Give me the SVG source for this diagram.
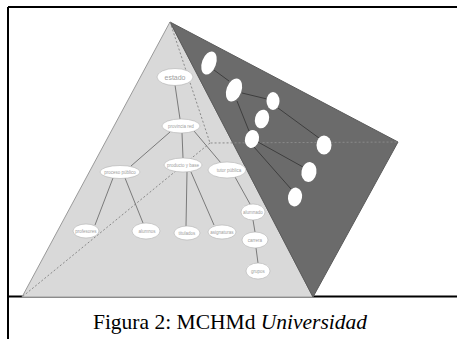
<svg xmlns="http://www.w3.org/2000/svg" width="457" height="339" viewBox="0 0 457 339">
<style>
.face-l{fill:#d9d9d9;stroke:#9a9a9a;stroke-width:1}
.face-d{fill:#6b6b6b;stroke:#5a5a5a;stroke-width:1}
.hid{fill:none;stroke:#8a8a8a;stroke-width:1;stroke-dasharray:2 2}
.el{fill:none;stroke:#7a7a7a;stroke-width:1}
.ed{fill:none;stroke:#3e3e3e;stroke-width:1}
.nl{fill:#fff;stroke:#b0b0b0;stroke-width:0.6}
.nd{fill:#fff;stroke:none}
.t{font-family:"Liberation Sans",Arial,sans-serif;font-size:4.5px;fill:#a0a0a0;text-anchor:middle}
.frame{stroke:#000;stroke-width:2;fill:none}
</style>
<rect x="0" y="0" width="457" height="339" fill="#fff"/>
<g id="frame">
<path class="frame" d="M8,7 H457 M8,7 V339 M8,296.5 H457"/>
</g>
<g id="pyramid">
<polygon class="face-l" points="170,22 22,297 313,297"/>
<polygon class="face-d" points="170,22 398,142 313,297"/>
<path class="hid" d="M170,22 L210,143 L398,142 M210,143 L22,297"/>
</g>
<g id="connectors">
<path class="el" d="M175,85 L180,119 M170,132 L131,166 M182,133 L183,158 M194,131 L221,163 M113,178 L95,225 M125,178 L143,223 M187,172 L186,226 M191,172 L214,225 M235,177 L250,204 M253,220 L255,232 M256,248 L258,263"/>
<path class="ed" d="M214,70 L229,81 M242,93 L267,99 M237,101 L249,131 M278,108 L319,138 M258,142 L303,167 M254,147 L291,189"/>
</g>
<g id="n-estado"><ellipse class="nl" cx="175" cy="77" rx="18" ry="8.5"/><text class="t" x="175" y="79.5" style="font-size:7px">estado</text></g>
<g id="n-provincia"><ellipse class="nl" cx="181" cy="126" rx="19" ry="7"/><text class="t" x="181" y="127.5">provincia red</text></g>
<g id="n-proceso"><ellipse class="nl" cx="120" cy="172" rx="20" ry="6.5"/><text class="t" x="120" y="173.5">proceso público</text></g>
<g id="n-producto"><ellipse class="nl" cx="183" cy="165" rx="19" ry="7"/><text class="t" x="183" y="166.5">producto y base</text></g>
<g id="n-tutor"><ellipse class="nl" cx="227" cy="170" rx="19" ry="8"/><text class="t" x="229" y="171.5">tutor pública</text></g>
<g id="n-profesores"><ellipse class="nl" cx="86" cy="231" rx="13" ry="7"/><text class="t" x="86" y="232.5">profesores</text></g>
<g id="n-alumnos"><ellipse class="nl" cx="146" cy="231" rx="14" ry="8"/><text class="t" x="147" y="232.5">alumnos</text></g>
<g id="n-titulados"><ellipse class="nl" cx="187" cy="233" rx="13" ry="7"/><text class="t" x="187" y="234.5">titulados</text></g>
<g id="n-asignaturas"><ellipse class="nl" cx="222" cy="232" rx="14" ry="7"/><text class="t" x="222" y="233.5">asignaturas</text></g>
<g id="n-alumnado"><ellipse class="nl" cx="253" cy="212" rx="12" ry="8"/><text class="t" x="253" y="213.5">alumnado</text></g>
<g id="n-carrera"><ellipse class="nl" cx="255" cy="240" rx="13" ry="8"/><text class="t" x="255" y="241.5">carrera</text></g>
<g id="n-grupos"><ellipse class="nl" cx="258" cy="271" rx="12" ry="8"/><text class="t" x="258" y="272.5">grupos</text></g>
<g id="d1"><ellipse class="nd" cx="209" cy="63" rx="7" ry="12" transform="rotate(20 209 63)"/></g>
<g id="d2"><ellipse class="nd" cx="234" cy="90" rx="7.5" ry="12" transform="rotate(20 234 90)"/></g>
<g id="d3"><ellipse class="nd" cx="273" cy="101" rx="6.5" ry="9"/></g>
<g id="d4"><ellipse class="nd" cx="262" cy="119" rx="7" ry="9.5" transform="rotate(15 262 119)"/></g>
<g id="d5"><ellipse class="nd" cx="252" cy="139" rx="7" ry="9" transform="rotate(15 252 139)"/></g>
<g id="d6"><ellipse class="nd" cx="324" cy="145" rx="7.5" ry="9.5"/></g>
<g id="d7"><ellipse class="nd" cx="309" cy="172" rx="7.5" ry="10" transform="rotate(10 309 172)"/></g>
<g id="d8"><ellipse class="nd" cx="295" cy="197" rx="7" ry="9.5" transform="rotate(10 295 197)"/></g>
<g id="caption">
<text x="230" y="329" font-family="'Liberation Serif','Times New Roman',serif" font-size="21.5" text-anchor="middle" fill="#000">Figura 2: MCHMd <tspan font-style="italic" font-family="'Liberation Serif','DejaVu Serif',serif">Universidad</tspan></text>
</g>
</svg>
